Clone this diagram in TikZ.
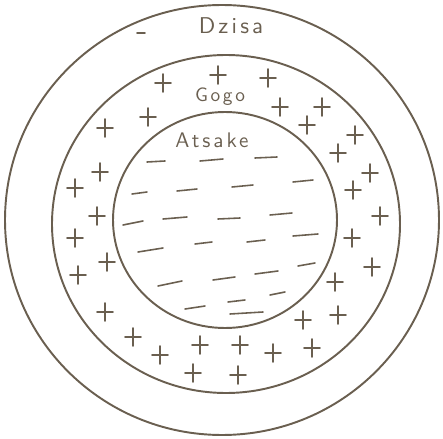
\documentclass[tikz,border=0pt]{standalone}
\usepackage{fontspec}
\usepackage{tikz}
\newfontfamily\handfont{lmsans10-regular.otf}[LetterSpace=14]
\definecolor{inkcol}{HTML}{6A5F50}
\tikzset{
  ring/.style={draw=inkcol, line width=1.1pt},
  markline/.style={draw=inkcol, line width=0.9pt, line cap=round},
  zonelab/.style={text=inkcol, inner sep=1pt},
  plusmark/.pic={\draw[markline] (-8,0) -- (8,0) (0,-9) -- (0,9);}}
\begin{document}
\begin{tikzpicture}[x=0.02cm, y=-0.02cm]
  \useasboundingbox (0,0) rectangle (443,439);
  % three zones
  \draw[ring] (222,220) ellipse [x radius=217, y radius=215];
  \draw[ring] (226,224) ellipse [x radius=174, y radius=169];
  \draw[ring] (225,220) ellipse [x radius=112, y radius=108];
  % labels
  \node[zonelab, font=\handfont\fontsize{13}{15}\selectfont] (dzisa) at (231,26) {Dzisa};
  \node[zonelab, font=\handfont\fontsize{11}{13}\selectfont] (gogo) at (220,97) {Gogo};
  \node[zonelab, font=\handfont\fontsize{12}{14}\selectfont] (atsake) at (212,140) {Atsake};
  % stray mark in outer ring
  \draw[markline] (137,33) -- (145,33);
  % plus signs in the middle ring
  \foreach \px/\py in {218/75, 268/78, 163/83, 280/107, 322/107, 148/117,
      105/128, 307/125, 355/135, 338/153, 100/172, 75/188, 370/173,
      353/190, 380/216, 97/216, 75/238, 352/238, 107/262, 78/275,
      372/267, 335/282, 105/312, 303/320, 338/315, 133/337, 160/355,
      200/345, 240/345, 273/353, 312/348, 193/373, 238/375}
    \pic at (\px,\py) {plusmark};
  % dashes in the inner circle
  \foreach \xa/\ya/\xb/\yb in {147/162/165/161, 200/161/223/159, 255/158/277/157,
      132/194/147/192, 177/191/197/189, 232/187/253/185, 293/182/313/180,
      123/225/143/221, 163/219/187/217, 218/219/240/218, 270/215/292/213,
      138/252/163/248, 195/244/212/242, 247/242/265/240, 293/236/318/234,
      158/286/182/281, 213/280/235/277, 255/274/278/271, 298/266/315/263,
      185/309/205/306, 228/302/245/300, 270/295/285/292, 230/314/263/312}
    \draw[markline] (\xa,\ya) -- (\xb,\yb);
\end{tikzpicture}
\end{document}
